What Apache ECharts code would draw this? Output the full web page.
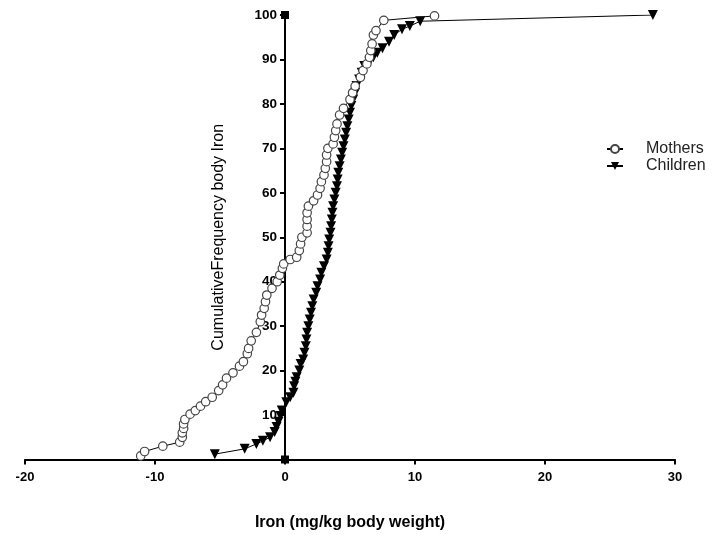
<!DOCTYPE html>
<html>
<head>
<meta charset="utf-8">
<script src="https://cdn.jsdelivr.net/npm/echarts@6/dist/echarts.min.js"></script>
<style>
  html, body { margin: 0; padding: 0; background: #fff; }
  #chart { width: 716px; height: 535px; }
</style>
</head>
<body>
<div id="chart"></div>
<script>
// cumulative frequency (%) of body iron
const mothersIron = [-11.1, -10.8, -9.4, -8.1, -7.9, -7.9, -7.8, -7.8, -7.7, -7.3, -6.9, -6.5, -6.1, -5.6, -5.1, -4.8, -4.5, -4.0, -3.5, -3.2,
  -2.9, -2.8, -2.6, -2.2, -1.9, -1.8, -1.6, -1.5, -1.4, -1.0, -0.6, -0.4, -0.2, -0.1, 0.4, 0.9, 1.1, 1.2, 1.3, 1.7,
  1.7, 1.7, 1.7, 1.8, 2.2, 2.5, 2.7, 2.8, 3.0, 3.1, 3.2, 3.2, 3.3, 3.7, 3.8, 3.9, 4.0, 4.2, 4.5, 5.0,
  5.2, 5.4, 5.8, 6.0, 6.3, 6.5, 6.6, 6.7, 6.8, 7.0, 7.6, 11.5];
const mothersFreq = [0.8, 1.8, 3.0, 3.9, 5.0, 6.0, 7.0, 8.0, 9.0, 10.2, 11.0, 12.0, 13.0, 14.0, 15.5, 16.8, 18.3, 19.5, 21.0, 22.0,
  23.8, 25.0, 26.7, 28.6, 31.0, 32.5, 34.0, 35.5, 37.0, 38.5, 40.0, 41.5, 43.0, 44.0, 45.0, 45.5, 47.0, 48.5, 50.0, 51.0,
  52.5, 54.0, 55.5, 57.0, 58.2, 59.5, 61.0, 62.5, 64.0, 65.5, 67.0, 68.5, 70.0, 71.0, 72.5, 74.0, 75.5, 77.5, 79.0, 81.0,
  82.5, 84.0, 86.0, 87.5, 89.0, 90.5, 92.0, 93.5, 95.5, 96.5, 98.8, 99.8];

const childrenIron = [-5.4, -3.1, -2.2, -1.7, -1.15, -0.8, -0.65, -0.5, -0.35, -0.25, 0.1, 0.4, 0.65, 0.7, 0.8, 0.9, 1.1, 1.2, 1.4, 1.5,
  1.6, 1.65, 1.7, 1.8, 1.9, 2.0, 2.1, 2.2, 2.4, 2.5, 2.7, 2.8, 3.0, 3.2, 3.3, 3.35, 3.4, 3.5, 3.55, 3.6,
  3.65, 3.7, 3.8, 3.9, 4.0, 4.05, 4.1, 4.2, 4.3, 4.4, 4.5, 4.6, 4.7, 4.8, 4.9, 5.0, 5.1, 5.25, 5.4, 5.5,
  5.7, 5.9, 6.1, 6.5, 6.8, 7.1, 7.5, 8.0, 8.4, 9.0, 9.6, 10.4, 28.3];
const childrenFreq = [1.2, 2.4, 3.5, 4.2, 5.0, 6.2, 7.3, 8.5, 9.8, 11.0, 12.9, 14.0, 15.0, 16.5, 17.5, 18.5, 20.0, 21.5, 22.5, 24.0,
  25.5, 27.0, 28.5, 30.0, 31.5, 33.0, 34.5, 36.0, 37.5, 39.0, 40.5, 42.0, 43.5, 45.0, 46.5, 48.0, 49.5, 51.0, 52.5, 54.0,
  55.5, 57.0, 58.5, 60.0, 61.5, 63.0, 64.5, 66.0, 67.5, 69.0, 70.5, 72.0, 73.5, 75.0, 76.5, 78.0, 79.5, 81.0, 82.5, 84.0,
  85.5, 87.0, 88.5, 89.5, 90.5, 91.5, 92.5, 94.0, 95.5, 96.8, 97.5, 98.6, 100];

const seriesNames = ["Mothers", "Children"];

const zip = (xs, ys) => xs.map((x, i) => [x, ys[i]]);

const chart = echarts.init(document.getElementById("chart"));

const font = '"Liberation Sans", Arial, sans-serif';

// y axis sits on x = 0: 20 units * 13px from the grid's left edge
const gridLeft = 25;
const gridRight = 41;

chart.setOption({
  animation: false,
  textStyle: { fontFamily: font },
  grid: { left: gridLeft, right: gridRight, top: 15, bottom: 75.5, containLabel: false, outerBoundsMode: "none" },
  legend: {
    orient: "vertical",
    left: 601,
    top: 136,
    itemWidth: 16,
    itemHeight: 10,
    itemGap: 1,
    data: seriesNames,
    textStyle: { fontFamily: font, fontSize: 16, color: "#222", padding: [0, 0, 0, 18] },
  },
  xAxis: {
    type: "value",
    min: -20,
    max: 30,
    interval: 10,
    name: "Iron (mg/kg body weight)",
    nameLocation: "middle",
    nameGap: 55,
    nameTextStyle: { fontFamily: font, fontSize: 16, fontWeight: "bold", color: "#000" },
    axisLine: { onZero: false, lineStyle: { color: "#000", width: 2 } },
    axisTick: { length: 5, lineStyle: { color: "#000", width: 2 } },
    axisLabel: { fontFamily: font, fontSize: 13, fontWeight: "bold", color: "#000", margin: 11 },
    splitLine: { show: false },
  },
  yAxis: {
    type: "value",
    min: 0,
    max: 100,
    interval: 10,
    position: "left",
    offset: -260,
    name: "CumulativeFrequency body Iron",
    nameLocation: "middle",
    nameGap: 58,
    nameTextStyle: { fontFamily: font, fontSize: 16, color: "#000" },
    axisLine: { show: true, onZero: false, lineStyle: { color: "#000", width: 2 } },
    axisTick: { show: true, length: 5, lineStyle: { color: "#000", width: 2 } },
    axisLabel: { fontFamily: font, fontSize: 13.5, fontWeight: "bold", color: "#000", margin: 8, showMinLabel: false },
    splitLine: { show: false },
  },
  series: [
    {
      name: seriesNames[0],
      type: "line",
      data: zip(mothersIron, mothersFreq),
      symbol: "circle",
      symbolSize: 8.5,
      showAllSymbol: true,
      lineStyle: { color: "#000", width: 1 },
      itemStyle: { color: "#fff", borderColor: "#444", borderWidth: 1.2 },
      z: 3,
      markPoint: {
        symbol: "rect",
        symbolSize: 8,
        label: { show: false },
        itemStyle: { color: "#000", borderWidth: 0 },
        data: [{ coord: [0, 100] }, { coord: [0, 0] }],
      },
    },
    {
      name: seriesNames[1],
      type: "line",
      data: zip(childrenIron, childrenFreq),
      symbol: "triangle",
      symbolRotate: 180,
      symbolSize: 10,
      showAllSymbol: true,
      lineStyle: { color: "#000", width: 1 },
      itemStyle: { color: "#000" },
      z: 2,
    },
  ],
});
</script>
</body>
</html>
